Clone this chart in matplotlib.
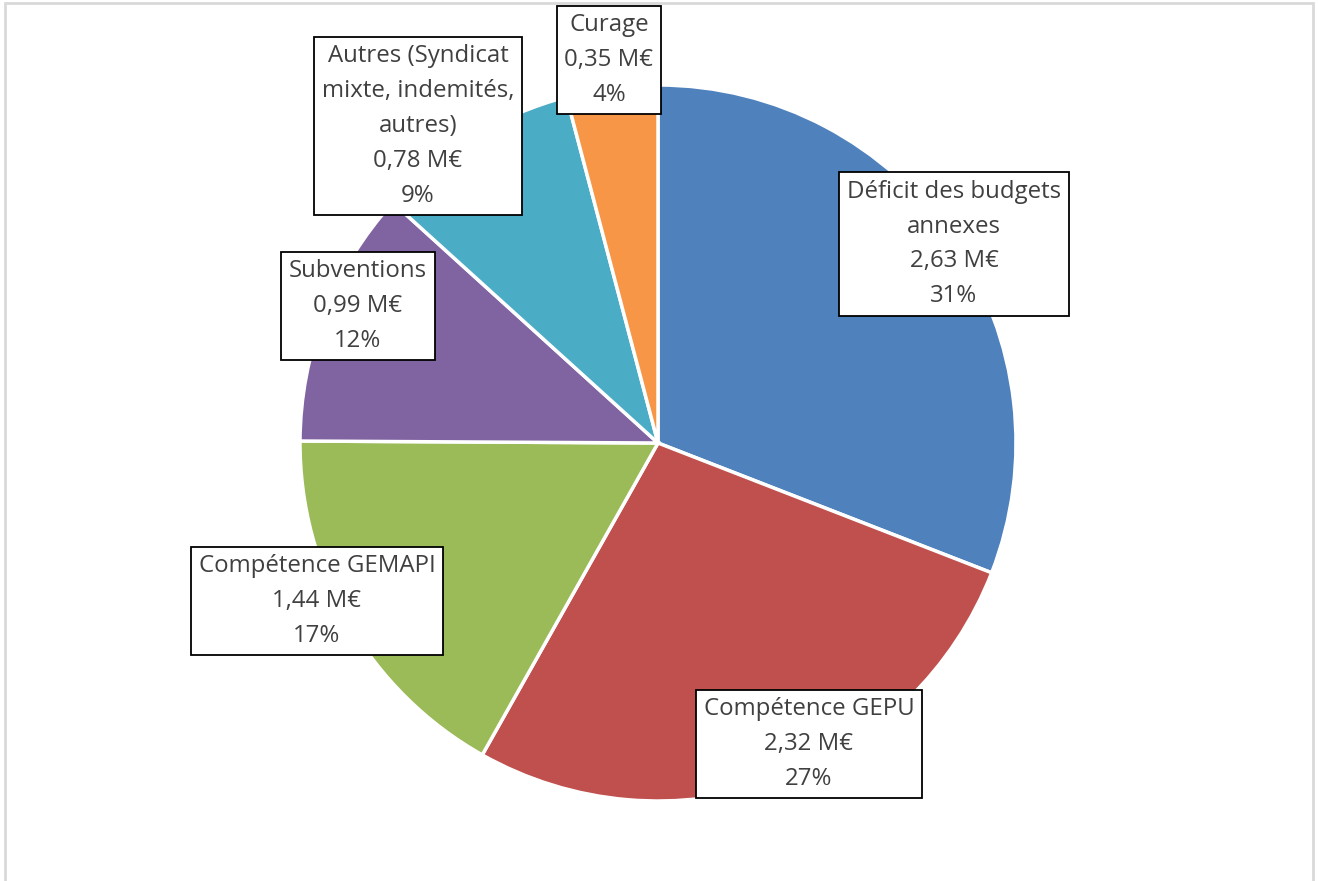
import matplotlib.pyplot as plt
from matplotlib.patches import Rectangle

plt.rcParams['font.family'] = ['Open Sans', 'DejaVu Sans']

categories = ['Déficit des budgets\nannexes', 'Compétence GEPU', 'Compétence GEMAPI',
              'Subventions', 'Autres (Syndicat\nmixte, indemités,\nautres)', 'Curage']
values = [2.63, 2.32, 1.44, 0.99, 0.78, 0.35]
colors = ['#4F81BD', '#C0504D', '#9BBB59', '#8064A2', '#4BACC6', '#F79646']

# label box centres (pixel coords, y from top)
label_pos = [(954, 244), (809, 744), (317, 601), (358, 306), (418, 126), (609, 60)]

W, H = 1318, 881
fig = plt.figure(figsize=(W / 100, H / 100), dpi=100)
ax = fig.add_axes([0, 0, 1, 1])
ax.set_xlim(0, W)
ax.set_ylim(0, H)
ax.set_aspect('equal')
ax.axis('off')

# chart frame
ax.add_patch(Rectangle((5, -5), 1308, H - 3 + 5, fill=False, edgecolor='#D9D9D9', lw=2))

ax.pie(values, colors=colors, startangle=90, counterclock=False,
       center=(658, H - 443), radius=358,
       wedgeprops=dict(edgecolor='white', linewidth=2.5))
ax.set_xlim(0, W)
ax.set_ylim(0, H)

total = sum(values)
for cat, v, (x, y) in zip(categories, values, label_pos):
    pct = round(v / total * 100)
    txt = '%s\n%s M€\n%d%%' % (cat, ('%.2f' % v).replace('.', ','), pct)
    ax.text(x, H - y, txt, ha='center', va='center', fontsize=17.3, color='#404040',
            linespacing=1.6,
            bbox=dict(boxstyle='square,pad=0.32', facecolor='white', edgecolor='black', lw=1.3))

fig.savefig('out.png', dpi=100)
